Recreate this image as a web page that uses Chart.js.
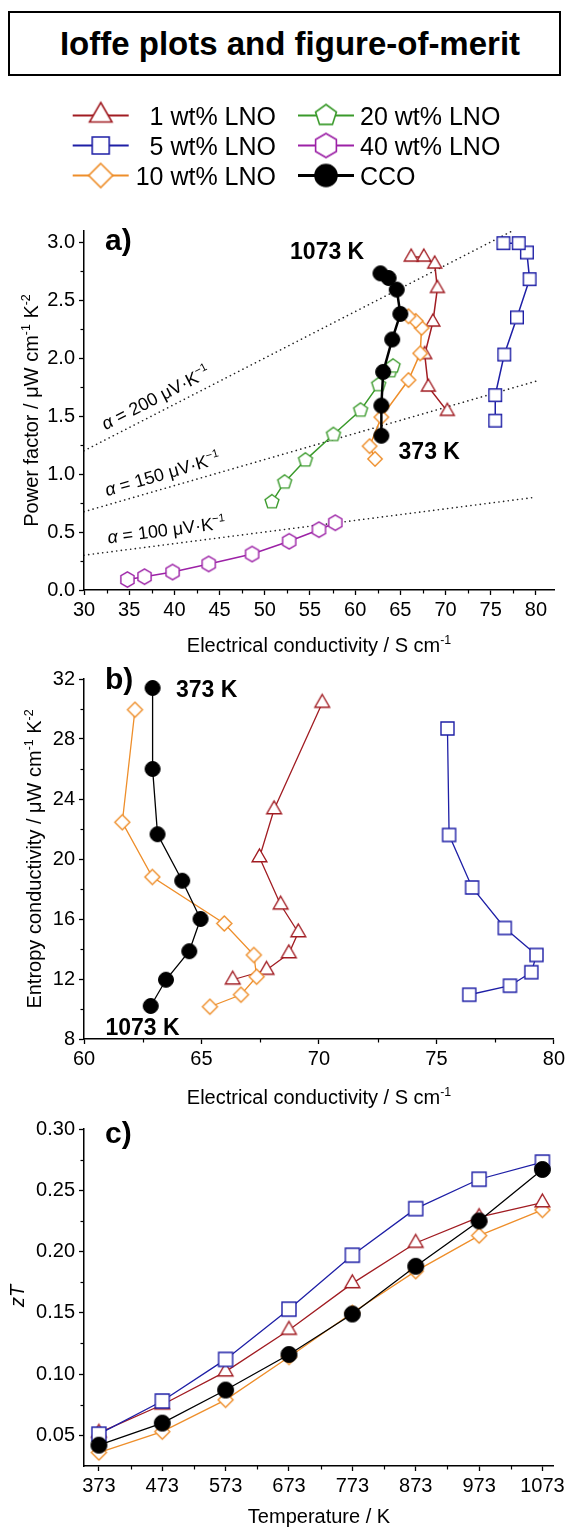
<!DOCTYPE html>
<html lang="en">
<head>
<meta charset="UTF-8">
<title>Ioffe plots and figure-of-merit</title>
<script src="https://cdn.jsdelivr.net/npm/chart.js"></script>
<style>
  body { margin: 0; background: #fff; }
  #page { position: relative; width: 568px; height: 1529px; overflow: hidden; background: #fff; }
  #title {
    position: absolute; left: 8px; top: 11px; width: 553px; height: 65px;
    box-sizing: border-box; border: 2px solid #000; padding-left: 11px;
    display: flex; align-items: center; justify-content: center;
    font: bold 33px "Liberation Sans", Arial, sans-serif; color: #000;
  }
  canvas { position: absolute; left: 0; }
</style>
</head>
<body>
<div id="page">
  <div id="title">Ioffe plots and figure-of-merit</div>
  <canvas id="legend" width="568" height="110" style="top:90px"></canvas>
  <canvas id="chartA" width="568" height="460" style="top:200px"></canvas>
  <canvas id="chartB" width="568" height="450" style="top:660px"></canvas>
  <canvas id="chartC" width="568" height="419" style="top:1110px"></canvas>
</div>
<script>
const FONT = '"Liberation Sans", Arial, Helvetica, sans-serif';

// every series runs 373 K -> 1073 K in 100 K steps
// a) power factor (uW cm-1 K-2) vs electrical conductivity (S cm-1)
const aSigma1 = [70.2, 68.1, 67.7, 68.6, 69.1, 68.8, 67.6, 66.2];
const aPf1    = [1.54, 1.75, 2.03, 2.31, 2.60, 2.81, 2.87, 2.87];
const aSigma5 = [75.5, 75.5, 76.5, 77.9, 79.3, 79.0, 78.1, 76.4];
const aPf5    = [1.46, 1.68, 2.03, 2.35, 2.68, 2.91, 2.99, 2.99];
const aSigma10 = [62.2, 61.6, 62.9, 65.9, 67.2, 67.35, 66.7, 65.9];
const aPf10    = [1.13, 1.24, 1.49, 1.81, 2.04, 2.26, 2.32, 2.36];
const aSigma20 = [50.8, 52.2, 54.5, 57.6, 60.6, 62.6, 63.9, 64.2];
const aPf20    = [0.76, 0.93, 1.12, 1.34, 1.55, 1.77, 1.89, 1.93];
const aSigma40 = [34.8, 36.7, 39.8, 43.8, 48.6, 52.7, 56.0, 57.8];
const aPf40    = [0.09, 0.115, 0.155, 0.225, 0.31, 0.42, 0.52, 0.58];
const aSigmaCCO = [62.9, 62.9, 63.1, 64.1, 65.0, 64.6, 63.7, 62.8];
const aPfCCO    = [1.33, 1.59, 1.88, 2.16, 2.38, 2.59, 2.69, 2.73];

// constant Seebeck guide lines (end points)
const alphaNames = ['200', '150', '100'];
const alphaLineX = [[30, 77.4], [30, 80], [30, 80]];
const alphaLineY = [[1.2, 3.096], [0.675, 1.8], [0.3, 0.8]];

// b) entropy conductivity (uW cm-1 K-2) vs electrical conductivity
const bSigma1 = [70.14, 68.09, 67.47, 68.37, 69.12, 68.72, 67.77, 66.33];
const bEnt1   = [30.4, 23.3, 20.1, 16.95, 15.1, 13.7, 12.6, 11.95];
const bSigma5 = [75.47, 75.54, 76.52, 77.91, 79.26, 79.04, 78.13, 76.4];
const bEnt5   = [28.7, 21.6, 18.1, 15.4, 13.6, 12.45, 11.55, 10.95];
const bSigma10 = [62.17, 61.63, 62.91, 65.97, 67.23, 67.35, 66.68, 65.36];
const bEnt10   = [29.95, 22.45, 18.8, 15.7, 13.6, 12.15, 10.95, 10.15];
const bSigmaCCO = [62.92, 62.92, 63.13, 64.18, 64.96, 64.48, 63.49, 62.84];
const bEntCCO   = [31.4, 26.0, 21.65, 18.55, 16.0, 13.85, 11.95, 10.2];

// c) zT vs temperature
const temps = [373, 473, 573, 673, 773, 873, 973, 1073];
const zt1   = [0.052, 0.075, 0.102, 0.136, 0.174, 0.207, 0.228, 0.240];
const zt5   = [0.051, 0.078, 0.112, 0.153, 0.197, 0.235, 0.259, 0.273];
const zt10  = [0.036, 0.053, 0.079, 0.114, 0.150, 0.184, 0.213, 0.234];
const ztCCO = [0.042, 0.060, 0.087, 0.116, 0.149, 0.188, 0.225, 0.267];

// tick labels
const aTicksX = [30, 35, 40, 45, 50, 55, 60, 65, 70, 75, 80];
const aMinorX = [32.5, 37.5, 42.5, 47.5, 52.5, 57.5, 62.5, 67.5, 72.5, 77.5];
const aTicksY = [0, 0.5, 1.0, 1.5, 2.0, 2.5, 3.0];
const aMinorY = [0.25, 0.75, 1.25, 1.75, 2.25, 2.75];
const bTicksX = [60, 65, 70, 75, 80];
const bMinorX = [62.5, 67.5, 72.5, 77.5];
const bTicksY = [8, 12, 16, 20, 24, 28, 32];
const bMinorY = [10, 14, 18, 22, 26, 30];
const cTicksX = [373, 473, 573, 673, 773, 873, 973, 1073];
const cMinorX = [423, 523, 623, 723, 823, 923, 1023];
const cTicksY = [0.05, 0.10, 0.15, 0.20, 0.25, 0.30];
const cMinorY = [0.075, 0.125, 0.175, 0.225, 0.275];

const RED = '#A11C22', BLUE = '#1E1FA6', ORANGE = '#EE8E2A', GREEN = '#3A9A2B', PURPLE = '#9C21A6', BLACK = '#000';

// open / filled symbols drawn once on small canvases
function makeMarker(shape, r, color, lw, fill) {
  const s = Math.ceil(2 * r + lw + 4);
  const c = document.createElement('canvas');
  c.width = s; c.height = s;
  const g = c.getContext('2d'), m = s / 2;
  g.beginPath();
  if (shape === 'circle') {
    g.arc(m, m, r, 0, 2 * Math.PI);
  } else if (shape === 'square') {
    g.rect(m - r, m - r, 2 * r, 2 * r);
  } else {
    const n = { triangle: 3, diamond: 4, pentagon: 5, hexagon: 6 }[shape];
    for (let i = 0; i < n; i++) {
      const a = -Math.PI / 2 + i * 2 * Math.PI / n;
      const px = m + r * Math.cos(a), py = m + r * Math.sin(a);
      if (i) g.lineTo(px, py); else g.moveTo(px, py);
    }
    g.closePath();
  }
  g.fillStyle = fill;
  g.fill();
  g.lineWidth = lw;
  g.strokeStyle = color;
  g.stroke();
  return c;
}

function fontStr(size, flags) {
  return (flags.includes('i') ? 'italic ' : '') + (flags.includes('b') ? 'bold ' : '') + size + 'px ' + FONT;
}

// parts: [text, flags]  flags: b bold, i italic, s superscript
function drawRich(ctx, parts, x, y, size, align, rot) {
  ctx.save();
  ctx.translate(x, y);
  if (rot) ctx.rotate(rot);
  ctx.textBaseline = 'alphabetic';
  ctx.textAlign = 'left';
  ctx.fillStyle = '#000';
  let w = 0;
  const pieces = parts.map(p => {
    const f = p[1] || '';
    const sz = f.includes('s') ? size * 0.62 : size;
    ctx.font = fontStr(sz, f);
    const pw = ctx.measureText(p[0]).width;
    w += pw;
    return { t: p[0], f, sz, pw };
  });
  let cx = align === 'center' ? -w / 2 : (align === 'right' ? -w : 0);
  pieces.forEach(p => {
    ctx.font = fontStr(p.sz, p.f);
    ctx.fillText(p.t, cx, p.f.includes('s') ? -size * 0.42 : 0);
    cx += p.pw;
  });
  ctx.restore();
}

function makeDecor(cfg) {
  return {
    id: 'decor',
    afterDraw(chart) {
      const ctx = chart.ctx, xs = chart.scales.x, ys = chart.scales.y;
      ctx.save();
      ctx.strokeStyle = '#000';
      ctx.lineWidth = 1.2;
      cfg.minorX.forEach(v => {
        const px = Math.round(xs.getPixelForValue(v)) + 0.5;
        ctx.beginPath(); ctx.moveTo(px, xs.top); ctx.lineTo(px, xs.top + 3.5); ctx.stroke();
      });
      cfg.minorY.forEach(v => {
        const py = Math.round(ys.getPixelForValue(v)) + 0.5;
        ctx.beginPath(); ctx.moveTo(ys.right, py); ctx.lineTo(ys.right - 3.5, py); ctx.stroke();
      });
      ctx.restore();
      cfg.texts.forEach(t => {
        let x = t.x, y = t.y;
        if (t.data) { x = xs.getPixelForValue(t.x); y = ys.getPixelForValue(t.y); }
        drawRich(ctx, t.parts, x, y, t.size, t.align || 'left', t.rot || 0);
      });
      (cfg.lineLabels || []).forEach(l => {
        const x0 = xs.getPixelForValue(l.lx[0]), y0 = ys.getPixelForValue(l.ly[0]);
        const x1 = xs.getPixelForValue(l.lx[1]), y1 = ys.getPixelForValue(l.ly[1]);
        const th = Math.atan2(y1 - y0, x1 - x0);
        const at = l.at;
        const yv = l.ly[0] + (at - l.lx[0]) * (l.ly[1] - l.ly[0]) / (l.lx[1] - l.lx[0]);
        const px = xs.getPixelForValue(at) + Math.sin(th) * l.off;
        const py = ys.getPixelForValue(yv) - Math.cos(th) * l.off;
        drawRich(ctx, l.parts, px, py, l.size, 'left', th);
      });
    }
  };
}

function axis(min, max, ticks, decimals, fit, isX) {
  return {
    type: 'linear', position: isX ? 'bottom' : 'left', min, max,
    afterBuildTicks: s => { s.ticks = ticks.map(v => ({ value: v })); },
    afterFit: s => { if (isX) s.height = fit; else s.width = fit; },
    grid: { display: true, drawOnChartArea: false, drawTicks: true, tickLength: 5, tickColor: '#000', tickWidth: 1.3 },
    border: { display: true, color: '#000', width: 1.5 },
    ticks: {
      color: '#000', font: { family: FONT, size: 20 }, padding: isX ? 3 : 4,
      autoSkip: false, maxRotation: 0, callback: v => Number(v).toFixed(decimals)
    }
  };
}

function series(xs, ys, color, marker, lw, order) {
  return {
    data: xs.map((x, i) => ({ x, y: ys[i] })),
    showLine: true, borderColor: color, borderWidth: lw,
    pointStyle: marker, pointRadius: 6, pointHoverRadius: 6, order
  };
}

function baseOptions(scales, top) {
  return {
    responsive: false, animation: false, events: [],
    layout: { padding: { top, right: 14, left: 0, bottom: 0 } },
    scales,
    plugins: { legend: { display: false }, tooltip: { enabled: false } }
  };
}

const unitParts = [[' / \u03bcW cm'], ['-1', 's'], [' K'], ['-2', 's']];
const condTitle = [['Electrical conductivity / S cm'], ['-1', 's']];

// ---------- a) ----------
const alphaSets = alphaNames.map((n, i) => ({
  data: alphaLineX[i].map((x, j) => ({ x, y: alphaLineY[i][j] })),
  showLine: true, borderColor: '#222', borderWidth: 1.6, borderDash: [0.1, 4.6],
  borderCapStyle: 'round', pointRadius: 0, order: 9
}));

new Chart(document.getElementById('chartA'), {
  type: 'scatter',
  data: {
    datasets: [
      series(aSigmaCCO, aPfCCO, BLACK, makeMarker('circle', 7.5, BLACK, 1, BLACK), 2.5, 0),
      series(aSigma10, aPf10, ORANGE, makeMarker('diamond', 7.2, ORANGE, 1.4, '#fff'), 1.5, 1),
      series(aSigma1, aPf1, RED, makeMarker('triangle', 8, RED, 1.4, '#fff'), 1.5, 2),
      series(aSigma5, aPf5, BLUE, makeMarker('square', 6.3, BLUE, 1.4, '#fff'), 1.5, 3),
      series(aSigma20, aPf20, GREEN, makeMarker('pentagon', 7.3, GREEN, 1.4, '#fff'), 1.5, 4),
      series(aSigma40, aPf40, PURPLE, makeMarker('hexagon', 7.6, PURPLE, 1.4, '#fff'), 1.5, 5),
      ...alphaSets
    ]
  },
  options: baseOptions({ x: axis(30, 82, aTicksX, 0, 70, true), y: axis(0, 3.095, aTicksY, 1, 84, false) }, 31),
  plugins: [makeDecor({
    minorX: aMinorX, minorY: aMinorY,
    texts: [
      { parts: [['a)', 'b']], x: 105, y: 50, size: 30 },
      { parts: [['1073 K', 'b']], x: 56.9, y: 2.85, data: true, size: 23, align: 'center' },
      { parts: [['373 K', 'b']], x: 68.2, y: 1.13, data: true, size: 23, align: 'center' },
      { parts: [['Power factor'], ...unitParts], x: 38, y: 210.5, size: 20, align: 'center', rot: -Math.PI / 2 },
      { parts: condTitle, x: 319, y: 452, size: 20, align: 'center' }
    ],
    lineLabels: alphaNames.map((n, i) => ({
      lx: alphaLineX[i], ly: alphaLineY[i], at: 32.8, off: 8.5, size: 18,
      parts: [['\u03b1', 'i'], [' = ' + n + ' \u03bcV\u00b7K'], ['\u22121', 's']]
    }))
  })]
});

// ---------- b) ----------
new Chart(document.getElementById('chartB'), {
  type: 'scatter',
  data: {
    datasets: [
      series(bSigmaCCO, bEntCCO, BLACK, makeMarker('circle', 7.5, BLACK, 1, BLACK), 1.3, 0),
      series(bSigma10, bEnt10, ORANGE, makeMarker('diamond', 7.5, ORANGE, 1.4, '#fff'), 1.3, 1),
      series(bSigma1, bEnt1, RED, makeMarker('triangle', 8.5, RED, 1.4, '#fff'), 1.3, 2),
      series(bSigma5, bEnt5, BLUE, makeMarker('square', 6.5, BLUE, 1.4, '#fff'), 1.3, 3)
    ]
  },
  options: baseOptions({ x: axis(60, 80, bTicksX, 0, 71, true), y: axis(8, 32, bTicksY, 0, 84, false) }, 19),
  plugins: [makeDecor({
    minorX: bMinorX, minorY: bMinorY,
    texts: [
      { parts: [['b)', 'b']], x: 105, y: 29, size: 30 },
      { parts: [['373 K', 'b']], x: 65.22, y: 30.82, data: true, size: 23, align: 'center' },
      { parts: [['1073 K', 'b']], x: 62.49, y: 8.29, data: true, size: 23, align: 'center' },
      { parts: [['Entropy conductivity'], ...unitParts], x: 41, y: 199, size: 20, align: 'center', rot: -Math.PI / 2 },
      { parts: condTitle, x: 319, y: 444, size: 20, align: 'center' }
    ]
  })]
});

// ---------- c) ----------
new Chart(document.getElementById('chartC'), {
  type: 'scatter',
  data: {
    datasets: [
      series(temps, ztCCO, BLACK, makeMarker('circle', 8, BLACK, 1, BLACK), 1.3, 0),
      series(temps, zt5, BLUE, makeMarker('square', 7, BLUE, 1.4, '#fff'), 1.3, 1),
      series(temps, zt1, RED, makeMarker('triangle', 8.5, RED, 1.4, '#fff'), 1.3, 2),
      series(temps, zt10, ORANGE, makeMarker('diamond', 7.5, ORANGE, 1.4, '#fff'), 1.3, 3)
    ]
  },
  options: baseOptions({ x: axis(349.5, 1090, cTicksX, 0, 63, true), y: axis(0.025, 0.30, cTicksY, 2, 84, false) }, 19),
  plugins: [makeDecor({
    minorX: cMinorX, minorY: cMinorY,
    texts: [
      { parts: [['c)', 'b']], x: 105, y: 33, size: 30 },
      { parts: [['z', 'i'], ['T', 'i']], x: 24, y: 186, size: 20, align: 'center', rot: -Math.PI / 2 },
      { parts: [['Temperature / K']], x: 319, y: 413, size: 20, align: 'center' }
    ]
  })]
});

// ---------- legend ----------
const legendItems = [
  { label: '1 wt% LNO', color: RED, shape: 'triangle', r: 13, col: 0, row: 0 },
  { label: '5 wt% LNO', color: BLUE, shape: 'square', r: 8.5, col: 0, row: 1 },
  { label: '10 wt% LNO', color: ORANGE, shape: 'diamond', r: 12, col: 0, row: 2 },
  { label: '20 wt% LNO', color: GREEN, shape: 'pentagon', r: 11, col: 1, row: 0 },
  { label: '40 wt% LNO', color: PURPLE, shape: 'hexagon', r: 12, col: 1, row: 1 },
  { label: 'CCO', color: BLACK, shape: 'circle', r: 11, col: 1, row: 2 }
];
const lg = document.getElementById('legend').getContext('2d');
legendItems.forEach(it => {
  const cy = 25.5 + it.row * 30;
  const mx = it.col ? 326 : 100.7;
  lg.strokeStyle = it.color;
  lg.lineWidth = it.color === BLACK ? 3 : 2;
  lg.beginPath(); lg.moveTo(mx - 28, cy); lg.lineTo(mx + 28, cy); lg.stroke();
  const filled = it.shape === 'circle';
  const m = makeMarker(it.shape, it.r, it.color, 1.6, filled ? it.color : '#fff');
  lg.drawImage(m, mx - m.width / 2, cy - m.height / 2);
  lg.font = '25px ' + FONT;
  lg.fillStyle = '#000';
  lg.textBaseline = 'alphabetic';
  if (it.col) { lg.textAlign = 'left'; lg.fillText(it.label, 360, cy + 9); }
  else { lg.textAlign = 'right'; lg.fillText(it.label, 276, cy + 9); }
});
</script>
</body>
</html>
